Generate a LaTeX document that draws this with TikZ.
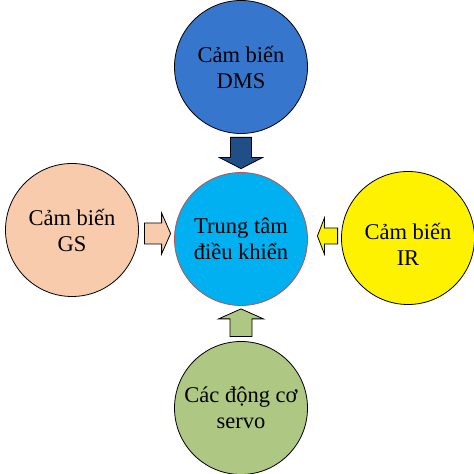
\documentclass[tikz,border=0pt]{standalone}
\usepackage{fontspec}
\setmainfont{Liberation Serif}
\usetikzlibrary{calc}
\definecolor{dmsblue}{RGB}{55,118,205}
\definecolor{arrowblue}{RGB}{32,78,135}
\definecolor{ctrlcyan}{RGB}{0,176,240}
\definecolor{ctrlrim}{RGB}{192,80,77}
\definecolor{gspeach}{RGB}{248,203,173}
\definecolor{servogreen}{RGB}{174,199,131}

\tikzset{
  unittext/.style={align=center, font=\fontsize{22.5}{26}\selectfont},
  unit/.style={circle, draw=black, line width=0.8pt, minimum size=133pt,
    inner sep=0pt, unittext},
  barrow/.style={draw=black, line width=0.8pt},
}

% block arrow: style, tail, tip, half shaft, half head, head length
\newcommand{\blockarrow}[6]{%
  \coordinate (ba) at ($(#3)!#6!(#2)$);
  \draw[barrow, #1] ($(#2)!#4!90:(#3)$) -- ($(ba)!#4!-90:(#2)$)
    -- ($(ba)!#5!-90:(#2)$) -- (#3) -- ($(ba)!#5!90:(#2)$)
    -- ($(ba)!#4!90:(#2)$) -- ($(#2)!#4!-90:(#3)$) -- cycle;
}

\begin{document}
\begin{tikzpicture}[x=1pt, y=1pt]
    \useasboundingbox (0,0) rectangle (474,474);

    % Units
    \node[unit, fill=ctrlcyan, draw=ctrlrim] (ctrl) at (241,235) {Trung tâm\\điều khiển};
    \node[unit, fill=dmsblue] (dms) at (241,407) {Cảm biến\\DMS};
    \node[unit, fill=gspeach] (gs) at (72,244) {Cảm biến\\GS};
    \node[unit, fill=yellow,
      label={[unittext, yshift=-6pt]center:Cảm biến\\IR}] (ir) at (408,236) {};
    \node[unit, fill=servogreen] (servo) at (241,66) {Các động cơ\\servo};

    % Arrow ends
    \coordinate (dmsA) at ([yshift=-3.5pt]dms.south);
    \coordinate (dmsB) at ([yshift=3.5pt]ctrl.north);
    \coordinate (servoA) at ([yshift=4.5pt]servo.north);
    \coordinate (servoB) at ([yshift=-3pt]ctrl.south);
    \coordinate (gsA) at ([shift={(5.5pt,-3.5pt)}]gs.east);
    \coordinate (gsB) at ([shift={(-3.5pt,5.5pt)}]ctrl.west);
    \coordinate (irA) at ([shift={(-3.5pt,2pt)}]ir.west);
    \coordinate (irB) at ([shift={(9.5pt,3pt)}]ctrl.east);

    % Block arrows
    \blockarrow{fill=arrowblue}{dmsA}{dmsB}{10.5pt}{21.5pt}{11pt}
    \blockarrow{fill=servogreen}{servoA}{servoB}{11pt}{22.5pt}{10pt}
    \blockarrow{fill=gspeach}{gsA}{gsB}{10.5pt}{20.5pt}{9pt}
    \blockarrow{fill=yellow}{irA}{irB}{8pt}{18pt}{7pt}
\end{tikzpicture}
\end{document}
